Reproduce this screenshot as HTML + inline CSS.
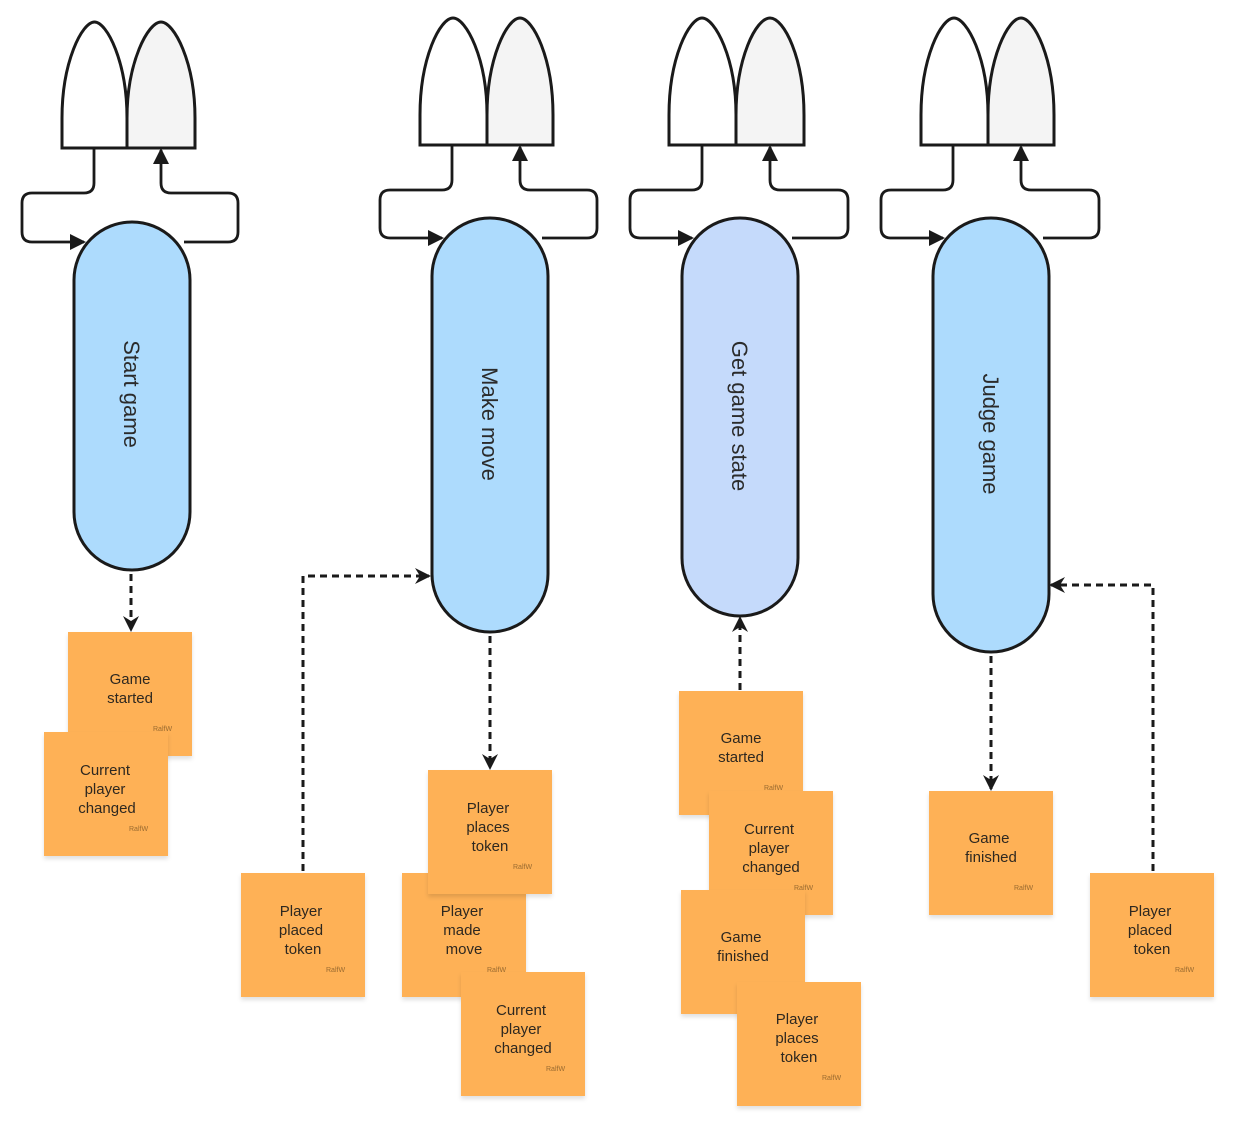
<!DOCTYPE html>
<html><head><meta charset="utf-8"><style>
html,body{margin:0;padding:0;background:#fff;}
svg{display:block;font-family:"Liberation Sans",sans-serif;}
.st{fill:#feb157;}
.t{font-size:15px;fill:#2e2820;text-anchor:middle;}
.r{font-size:7px;fill:#9a6b30;}
.ar{fill:#f4f4f4;}
</style></head><body>
<svg width="1244" height="1134" viewBox="0 0 1244 1134" xmlns="http://www.w3.org/2000/svg">
<defs>
<marker id="m" markerWidth="16" markerHeight="16" refX="14" refY="8" orient="auto" markerUnits="userSpaceOnUse" viewBox="0 0 16 16"><path d="M0,0 L16,8 L0,16 Z" fill="#1a1a1a"/></marker>
<marker id="md" markerWidth="16" markerHeight="16" refX="14" refY="8" orient="auto" markerUnits="userSpaceOnUse" viewBox="0 0 16 16"><path d="M0,0 L16,8 L0,16 L5,8 Z" fill="#1a1a1a"/></marker>
<filter id="sh" x="-10%" y="-10%" width="130%" height="130%"><feDropShadow dx="0" dy="3" stdDeviation="2" flood-color="#000" flood-opacity="0.12"/></filter>
</defs>
<g fill="none" stroke="#1a1a1a" stroke-width="2.8">
<path d="M94,148 V183 Q94,193 84,193 H32 Q22,193 22,203 V232 Q22,242 32,242 H84" marker-end="url(#m)"/>
<path d="M184,242 H228 Q238,242 238,232 V203 Q238,193 228,193 H171 Q161,193 161,183 V150" marker-end="url(#m)"/>
<path d="M452,145 V180 Q452,190 442,190 H390 Q380,190 380,200 V228 Q380,238 390,238 H442" marker-end="url(#m)"/>
<path d="M542,238 H587 Q597,238 597,228 V200 Q597,190 587,190 H530 Q520,190 520,180 V147" marker-end="url(#m)"/>
<path d="M702,145 V180 Q702,190 692,190 H640 Q630,190 630,200 V228 Q630,238 640,238 H692" marker-end="url(#m)"/>
<path d="M792,238 H838 Q848,238 848,228 V200 Q848,190 838,190 H780 Q770,190 770,180 V147" marker-end="url(#m)"/>
<path d="M953,145 V180 Q953,190 943,190 H891 Q881,190 881,200 V228 Q881,238 891,238 H943" marker-end="url(#m)"/>
<path d="M1043,238 H1089 Q1099,238 1099,228 V200 Q1099,190 1089,190 H1031 Q1021,190 1021,180 V147" marker-end="url(#m)"/>
</g>
<g stroke="#1a1a1a" stroke-width="3">
<path fill="#fff" d="M62,148 V118 C62,62 82,22 94.5,22 C107,22 127,62 127,118 V148 Z"/>
<path class="ar" d="M127,148 V118 C127,62 148,22 161,22 C174,22 195,62 195,118 V148 Z"/>
<path fill="#fff" d="M420,145 V115 C420,58 440,18 453,18 C466,18 487,58 487,115 V145 Z"/>
<path class="ar" d="M487,145 V115 C487,58 507,18 520,18 C533,18 553,58 553,115 V145 Z"/>
<path fill="#fff" d="M669,145 V115 C669,58 689,18 702,18 C715,18 736,58 736,115 V145 Z"/>
<path class="ar" d="M736,145 V115 C736,58 756,18 770,18 C784,18 804,58 804,115 V145 Z"/>
<path fill="#fff" d="M921,145 V115 C921,58 941,18 954,18 C967,18 988,58 988,115 V145 Z"/>
<path class="ar" d="M988,145 V115 C988,58 1008,18 1021,18 C1034,18 1054,58 1054,115 V145 Z"/>
</g>
<g fill="none" stroke="#1a1a1a" stroke-width="3" stroke-dasharray="7,5">
<path d="M131,574 V630" marker-end="url(#md)"/>
<path d="M303,871 V576 H429" marker-end="url(#md)"/>
<path d="M490,636 V768" marker-end="url(#md)"/>
<path d="M740,690 V618" marker-end="url(#md)"/>
<path d="M991,656 V789" marker-end="url(#md)"/>
<path d="M1153,871 V585 H1051" marker-end="url(#md)"/>
</g>
<g stroke="#1a1a1a" stroke-width="3">
<rect x="74" y="222" width="116" height="348" rx="58" fill="#addbfd"/>
<rect x="432" y="218" width="116" height="414" rx="58" fill="#addbfd"/>
<rect x="682" y="218" width="116" height="398" rx="58" fill="#c5dafb"/>
<rect x="933" y="218" width="116" height="434" rx="58" fill="#addbfd"/>
</g>
<g font-size="22" fill="#2b2b2b" text-anchor="middle">
<text transform="translate(124,394) rotate(90)">Start game</text>
<text transform="translate(482,424) rotate(90)">Make move</text>
<text transform="translate(732,416) rotate(90)">Get game state</text>
<text transform="translate(983,434) rotate(90)">Judge game</text>
</g>
<g filter="url(#sh)"><rect class="st" x="68" y="632" width="124" height="124"/></g>
<text class="t" x="130" y="684">Game</text><text class="t" x="130" y="703">started</text><text class="r" x="153" y="731">RalfW</text>
<g filter="url(#sh)"><rect class="st" x="44" y="732" width="124" height="124"/></g>
<text class="t" x="105" y="775">Current</text><text class="t" x="105" y="794">player</text><text class="t" x="107" y="813">changed</text><text class="r" x="129" y="831">RalfW</text>

<g filter="url(#sh)"><rect class="st" x="241" y="873" width="124" height="124"/></g>
<text class="t" x="301" y="916">Player</text><text class="t" x="301" y="935">placed</text><text class="t" x="303" y="954">token</text><text class="r" x="326" y="972">RalfW</text>

<g filter="url(#sh)"><rect class="st" x="402" y="873" width="124" height="124"/></g>
<text class="t" x="462" y="916">Player</text><text class="t" x="462" y="935">made</text><text class="t" x="464" y="954">move</text><text class="r" x="487" y="972">RalfW</text>
<g filter="url(#sh)"><rect class="st" x="428" y="770" width="124" height="124"/></g>
<text class="t" x="488" y="813">Player</text><text class="t" x="488" y="832">places</text><text class="t" x="490" y="851">token</text><text class="r" x="513" y="869">RalfW</text>
<g filter="url(#sh)"><rect class="st" x="461" y="972" width="124" height="124"/></g>
<text class="t" x="521" y="1015">Current</text><text class="t" x="521" y="1034">player</text><text class="t" x="523" y="1053">changed</text><text class="r" x="546" y="1071">RalfW</text>

<g filter="url(#sh)"><rect class="st" x="679" y="691" width="124" height="124"/></g>
<text class="t" x="741" y="743">Game</text><text class="t" x="741" y="762">started</text><text class="r" x="764" y="790">RalfW</text>
<g filter="url(#sh)"><rect class="st" x="709" y="791" width="124" height="124"/></g>
<text class="t" x="769" y="834">Current</text><text class="t" x="769" y="853">player</text><text class="t" x="771" y="872">changed</text><text class="r" x="794" y="890">RalfW</text>
<g filter="url(#sh)"><rect class="st" x="681" y="890" width="124" height="124"/></g>
<text class="t" x="741" y="942">Game</text><text class="t" x="743" y="961">finished</text><text class="r" x="766" y="989">RalfW</text>
<g filter="url(#sh)"><rect class="st" x="737" y="982" width="124" height="124"/></g>
<text class="t" x="797" y="1024">Player</text><text class="t" x="797" y="1043">places</text><text class="t" x="799" y="1062">token</text><text class="r" x="822" y="1080">RalfW</text>

<g filter="url(#sh)"><rect class="st" x="929" y="791" width="124" height="124"/></g>
<text class="t" x="989" y="843">Game</text><text class="t" x="991" y="862">finished</text><text class="r" x="1014" y="890">RalfW</text>
<g filter="url(#sh)"><rect class="st" x="1090" y="873" width="124" height="124"/></g>
<text class="t" x="1150" y="916">Player</text><text class="t" x="1150" y="935">placed</text><text class="t" x="1152" y="954">token</text><text class="r" x="1175" y="972">RalfW</text>
</svg>
</body></html>
